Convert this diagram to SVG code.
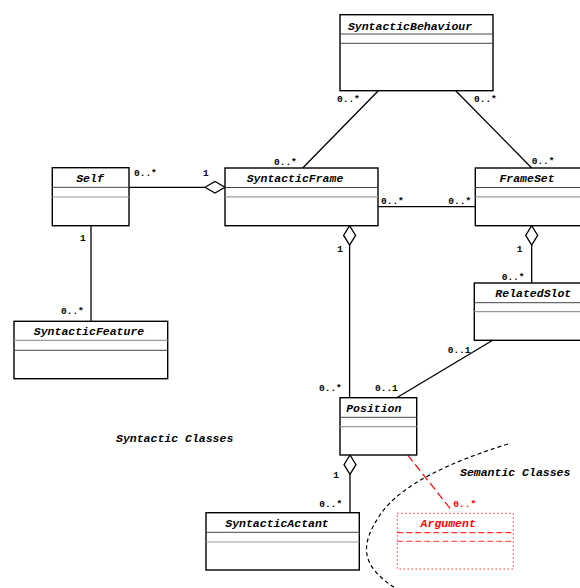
<svg xmlns="http://www.w3.org/2000/svg" width="580" height="588" viewBox="0 0 580 588">
  <style>
    .box { fill: #fff; stroke: #000; stroke-width: 1.4; }
    .sep1 { stroke: #444; stroke-width: 1; }
    .sep2 { stroke: #999; stroke-width: 1.2; }
    .name { font-family: "Liberation Mono", "DejaVu Sans Mono", monospace; font-size: 11.5px; font-weight: bold; font-style: italic; text-anchor: middle; fill: #000; }
    .mult { font-family: "Liberation Mono", "DejaVu Sans Mono", monospace; font-size: 9.5px; font-weight: bold; fill: #000; }
    .note { font-family: "Liberation Mono", "DejaVu Sans Mono", monospace; font-size: 11.5px; font-weight: bold; font-style: italic; fill: #000; }
    .edge { stroke: #000; stroke-width: 1.3; fill: none; }
    .diamond { fill: #fff; stroke: #000; stroke-width: 1.3; }
    .red { fill: #f00; }
  </style>

  <!-- associations and aggregations -->
  <g id="connectors">
    <line class="edge" x1="378.3" y1="90.7" x2="302.7" y2="168"/>
    <line class="edge" x1="455.7" y1="90.7" x2="531.7" y2="168"/>
    <line class="edge" x1="129" y1="187.3" x2="205" y2="187.3"/>
    <polygon class="diamond" points="205,187.3 215,181.5 225,187.3 215,193.1"/>
    <line class="edge" x1="378" y1="206.7" x2="475" y2="206.7"/>
    <line class="edge" x1="349.6" y1="245" x2="349.6" y2="397.7"/>
    <polygon class="diamond" points="349.6,225.7 343.6,235.4 349.6,245 355.6,235.4"/>
    <line class="edge" x1="531.7" y1="245" x2="531.7" y2="283"/>
    <polygon class="diamond" points="531.7,225.7 525.7,235.4 531.7,245 537.7,235.4"/>
    <line class="edge" x1="91" y1="225.7" x2="91" y2="321.3"/>
    <line class="edge" x1="492.7" y1="340.3" x2="396.7" y2="397.7"/>
    <line class="edge" x1="350" y1="474.3" x2="350" y2="512.7"/>
    <polygon class="diamond" points="350,455 344,464.7 350,474.3 356,464.7"/>
    <line x1="407.7" y1="455" x2="450" y2="508.3" stroke="#f00" stroke-width="1.2" stroke-dasharray="8 4"/>
    <!-- package boundary -->
    <path d="M508,444 C450,462 400,485 380,515 C360,545 360,565 395,588" fill="none" stroke="#000" stroke-width="1.2" stroke-dasharray="4 3"/>
  </g>

  <g id="SyntacticBehaviour">
    <rect class="box" x="340" y="14.7" width="153" height="76"/>
    <line class="sep1" x1="340" y1="34" x2="493" y2="34"/>
    <line class="sep1" x1="340" y1="43.3" x2="493" y2="43.3"/>
    <text class="name" x="410" y="29.5">SyntacticBehaviour</text>
  </g>

  <g id="Self">
    <rect class="box" x="52.3" y="167.7" width="76.7" height="58"/>
    <line class="sep1" x1="52.3" y1="187.3" x2="129" y2="187.3"/>
    <line class="sep2" x1="52.3" y1="197" x2="129" y2="197"/>
    <text class="name" x="90" y="181.5">Self</text>
  </g>

  <g id="SyntacticFrame">
    <rect class="box" x="225" y="168" width="153" height="57.7"/>
    <line class="sep1" x1="225" y1="187.5" x2="378" y2="187.5"/>
    <line class="sep2" x1="225" y1="196.8" x2="378" y2="196.8"/>
    <text class="name" x="295" y="181.5">SyntacticFrame</text>
  </g>

  <g id="FrameSet">
    <rect class="box" x="475.3" y="168" width="120" height="57.7"/>
    <line class="sep1" x1="475.3" y1="187.5" x2="595" y2="187.5"/>
    <line class="sep2" x1="475.3" y1="196.8" x2="595" y2="196.8"/>
    <text class="name" x="527" y="181.5">FrameSet</text>
  </g>

  <g id="SyntacticFeature">
    <rect class="box" x="14" y="321.3" width="153.7" height="57.4"/>
    <line class="sep2" x1="14" y1="340.3" x2="167.7" y2="340.3"/>
    <line class="sep1" x1="14" y1="350.3" x2="167.7" y2="350.3"/>
    <text class="name" x="89" y="334.5">SyntacticFeature</text>
  </g>

  <g id="RelatedSlot">
    <rect class="box" x="474.3" y="283" width="120" height="57.3"/>
    <line class="sep1" x1="474.3" y1="302.7" x2="595" y2="302.7"/>
    <line class="sep2" x1="474.3" y1="311.7" x2="595" y2="311.7"/>
    <text class="name" x="533.3" y="297">RelatedSlot</text>
  </g>

  <g id="Position">
    <rect class="box" x="340" y="397.7" width="76.7" height="57.3"/>
    <line class="sep1" x1="340" y1="417.3" x2="416.7" y2="417.3"/>
    <line class="sep2" x1="340" y1="426.7" x2="416.7" y2="426.7"/>
    <text class="name" x="373.8" y="411.5">Position</text>
  </g>

  <g id="SyntacticActant">
    <rect class="box" x="206" y="512.7" width="153.3" height="57.3"/>
    <line class="sep1" x1="206" y1="532.3" x2="359.3" y2="532.3"/>
    <line class="sep2" x1="206" y1="542" x2="359.3" y2="542"/>
    <text class="name" x="277" y="527">SyntacticActant</text>
  </g>

  <g id="Argument">
    <rect x="397.3" y="513.3" width="116" height="55.7" fill="none" stroke="#f33" stroke-width="1" stroke-dasharray="1.5 2.5"/>
    <line x1="397.3" y1="532.7" x2="513.3" y2="532.7" stroke="#f00" stroke-width="1" stroke-dasharray="6 3"/>
    <line x1="397.3" y1="541.3" x2="513.3" y2="541.3" stroke="#f33" stroke-width="1" stroke-dasharray="6 3"/>
    <text class="name" x="448.2" y="527" fill="#f00" style="fill:#f00">Argument</text>
  </g>

  <!-- multiplicities -->
  <g id="multiplicities">
    <text class="mult" x="337" y="102">0..*</text>
    <text class="mult" x="474" y="102">0..*</text>
    <text class="mult" x="274" y="165">0..*</text>
    <text class="mult" x="531.7" y="164">0..*</text>
    <text class="mult" x="134" y="176">0..*</text>
    <text class="mult" x="203" y="176">1</text>
    <text class="mult" x="381" y="203.5">0..*</text>
    <text class="mult" x="448.3" y="203.5">0..*</text>
    <text class="mult" x="337.3" y="251.5">1</text>
    <text class="mult" x="516.7" y="251.5">1</text>
    <text class="mult" x="80" y="241">1</text>
    <text class="mult" x="61" y="314">0..*</text>
    <text class="mult" x="501.7" y="280">0..*</text>
    <text class="mult" x="447.7" y="352.7">0..1</text>
    <text class="mult" x="375" y="390.7">0..1</text>
    <text class="mult" x="319" y="390.7">0..*</text>
    <text class="mult" x="333.3" y="478.3">1</text>
    <text class="mult" x="319.3" y="507.3">0..*</text>
    <text class="mult red" x="453.3" y="507.3">0..*</text>
  </g>

  <g id="packages">
    <text class="note" x="116" y="441.5">Syntactic Classes</text>
    <text class="note" x="460" y="476">Semantic Classes</text>
  </g>
</svg>
